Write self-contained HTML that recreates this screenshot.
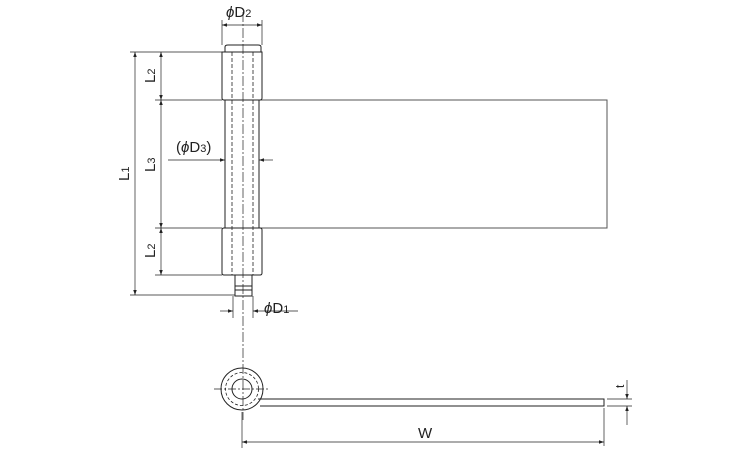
<!DOCTYPE html>
<html><head><style>html,body{margin:0;padding:0;background:#fff}svg{display:block}</style></head>
<body>
<svg width="750" height="450" viewBox="0 0 750 450" xmlns="http://www.w3.org/2000/svg" font-family="Liberation Sans, sans-serif">
<defs>
<marker id="a" viewBox="0 0 10 10" refX="10" refY="5" markerWidth="8" markerHeight="5" orient="auto-start-reverse" markerUnits="userSpaceOnUse"><path d="M0,1.5 L10,5 L0,8.5z" fill="#222"/></marker>
</defs>
<g stroke="#222" fill="none" stroke-width="1">
<rect x="259" y="100" width="348" height="128" stroke="#555"/>
<path d="M225,52 L225,47 Q225,45 228,45 L258,45 Q261,45 261,47 L261,52"/>
<path d="M222,52 L262,52 L262,98 Q262,100 260,100 L224,100 Q222,100 222,98 Z"/>
<path d="M225,100 L225,228 M259,100 L259,228"/>
<path d="M224,228 L260,228 Q262,228 262,230 L262,273 Q262,275 260,275 L224,275 Q222,275 222,273 L222,230 Q222,228 224,228 Z"/>
<path d="M235,275 L235,296 L252,296 L252,275 M235,286 L252,286 M235,290 L252,290"/>
<path d="M233,296 L233,318 M253,296 L253,318" stroke-width="0.7"/>
<path d="M232,52 L232,275 M253,52 L253,275" stroke-dasharray="4,2" stroke-width="0.8"/>
<path d="M243,12 L243,420" stroke-dasharray="10,2,2,2" stroke-width="0.7"/>
<path d="M130,52 L222,52 M130,295 L235,295 M155,100 L222,100 M155,228 L222,228 M155,275 L222,275 M222,20 L222,45 M262,20 L262,45" stroke-width="0.7"/>
<path d="M135,52 L135,295" marker-start="url(#a)" marker-end="url(#a)" stroke-width="0.7"/>
<path d="M161,52 L161,100" marker-start="url(#a)" marker-end="url(#a)" stroke-width="0.7"/>
<path d="M161,100 L161,228" marker-start="url(#a)" marker-end="url(#a)" stroke-width="0.7"/>
<path d="M161,228 L161,275" marker-start="url(#a)" marker-end="url(#a)" stroke-width="0.7"/>
<path d="M222,25 L262,25" marker-start="url(#a)" marker-end="url(#a)" stroke-width="0.7"/>
<path d="M168,160 L225,160" marker-end="url(#a)" stroke-width="0.7"/>
<path d="M273,160 L259,160" marker-end="url(#a)" stroke-width="0.7"/>
<path d="M220,311 L233,311" marker-end="url(#a)" stroke-width="0.7"/>
<path d="M298,311 L253,311" marker-end="url(#a)" stroke-width="0.7"/>
<circle cx="242" cy="389" r="21"/>
<circle cx="242" cy="389" r="16.5" stroke-dasharray="3,2" stroke-width="0.8"/>
<circle cx="242" cy="389" r="10"/>
<path d="M214,389 L270,389" stroke-dasharray="8,2,2,2" stroke-width="0.7"/>
<path d="M258,399 L604,399 L604,406 L260,406"/>
<path d="M242,412 L242,448 M604,408 L604,446 M607,399 L632,399 M607,406 L632,406" stroke-width="0.7"/>
<path d="M242,442 L604,442" marker-start="url(#a)" marker-end="url(#a)" stroke-width="0.7"/>
<path d="M627,380 L627,399" marker-end="url(#a)" stroke-width="0.7"/>
<path d="M627,425 L627,406" marker-end="url(#a)" stroke-width="0.7"/>
</g>
<g fill="#222" font-size="15">
<text x="226" y="17"><tspan font-style="italic">ϕ</tspan>D<tspan font-size="11">2</tspan></text>
<text x="176" y="152">(<tspan font-style="italic">ϕ</tspan>D<tspan font-size="11">3</tspan>)</text>
<text x="264" y="313"><tspan font-style="italic">ϕ</tspan>D<tspan font-size="11">1</tspan></text>
<text x="418" y="438">W</text>
<text transform="translate(129,181) rotate(-90)">L<tspan font-size="11">1</tspan></text>
<text transform="translate(155,83) rotate(-90)">L<tspan font-size="11">2</tspan></text>
<text transform="translate(155,172) rotate(-90)">L<tspan font-size="11">3</tspan></text>
<text transform="translate(155,258) rotate(-90)">L<tspan font-size="11">2</tspan></text>
<text transform="translate(624,388) rotate(-90)" font-size="12">t</text>
</g>
</svg>
</body></html>
